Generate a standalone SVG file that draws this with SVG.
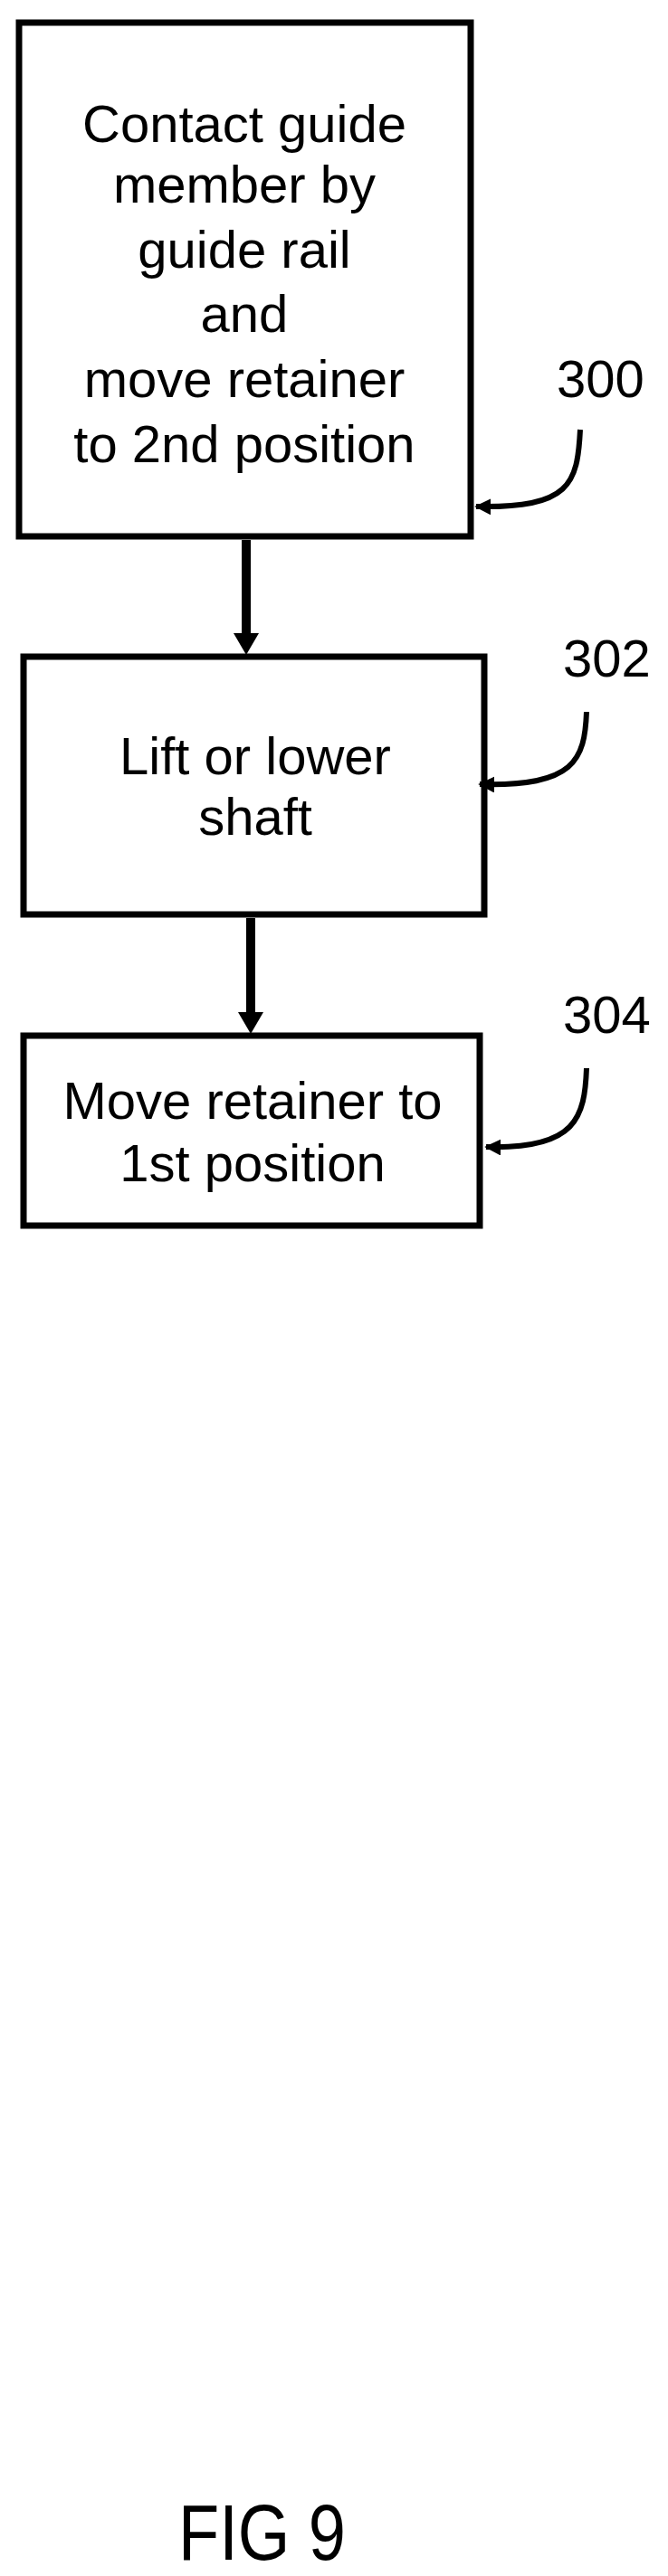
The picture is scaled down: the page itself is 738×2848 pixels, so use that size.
<svg xmlns="http://www.w3.org/2000/svg" width="738" height="2848" viewBox="0 0 738 2848">
<style>
.box{fill:#fff;stroke:#000;stroke-width:7}
.t{font-family:"Liberation Sans",Arial,sans-serif;font-size:58px;text-anchor:middle;fill:#000}
.n{font-family:"Liberation Sans",Arial,sans-serif;font-size:58px;fill:#000}
.c{fill:none;stroke:#000;stroke-width:10}
.l{fill:none;stroke:#000;stroke-width:6}
</style>
<defs>
<marker id="s" viewBox="0 0 10 10" refX="9" refY="5" markerWidth="3" markerHeight="3" orient="auto"><path d="M0,0L10,5L0,10z" fill="#000"/></marker>
</defs>
<g id="n300"><rect class="box" x="21" y="25" width="499" height="568"/>
<text class="t" x="270" y="157">Contact guide</text><text class="t" x="270" y="224">member by</text><text class="t" x="270" y="296">guide rail</text><text class="t" x="270" y="367">and</text><text class="t" x="270" y="439">move retainer</text><text class="t" x="270" y="511">to 2nd position</text></g>
<g id="n302"><rect class="box" x="26" y="726" width="509" height="285"/>
<text class="t" x="282" y="856">Lift or lower</text><text class="t" x="282" y="923">shaft</text></g>
<g id="n304"><rect class="box" x="26" y="1145" width="504" height="210"/>
<text class="t" x="279" y="1237">Move retainer to</text><text class="t" x="279" y="1306">1st position</text></g>
<g id="labels"><text class="n" x="615" y="439">300</text><text class="n" x="622" y="748">302</text><text class="n" x="622" y="1142">304</text>
<text x="197" y="2830" font-family="Liberation Sans,Arial,sans-serif" font-size="88" textLength="185" lengthAdjust="spacingAndGlyphs">FIG 9</text></g>
<g id="connectors">
<path class="c" d="M272,597V702"/><path d="M258,700L286,700L272,724z"/>
<path class="c" d="M277,1015V1121"/><path d="M263,1119L291,1119L277,1143z"/>
<path class="l" d="M641,475C638,535 630,562 526,560" marker-end="url(#s)"/>
<path class="l" d="M648,787C646,840 635,870 530,867" marker-end="url(#s)"/>
<path class="l" d="M648,1181C646,1235 637,1271 537,1268" marker-end="url(#s)"/>
</g>
</svg>
